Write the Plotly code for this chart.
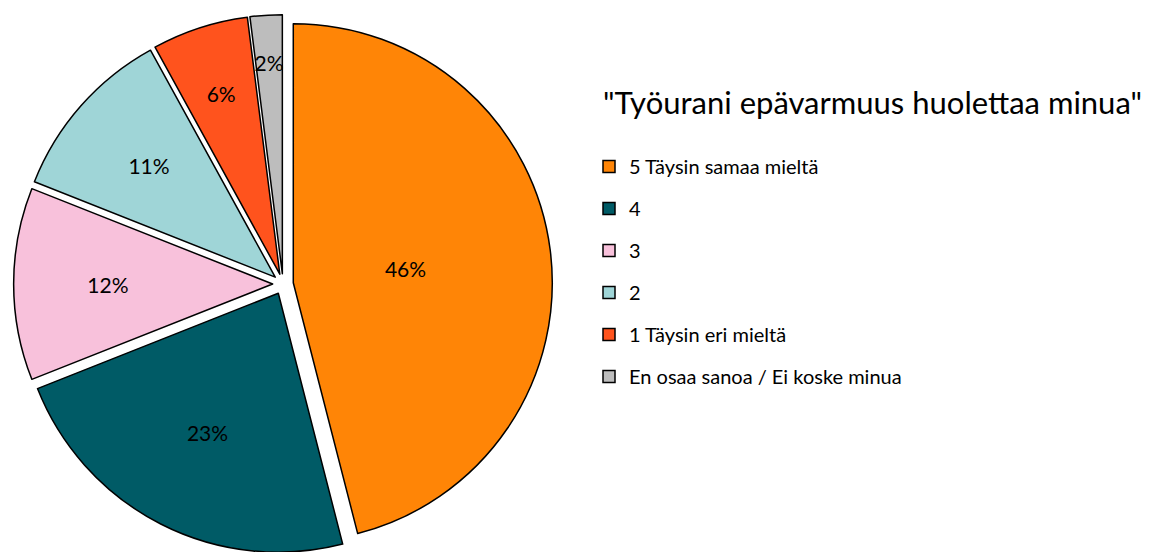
import plotly.graph_objects as go

categories = ["5 Täysin samaa mieltä", "4", "3", "2", "1 Täysin eri mieltä", "En osaa sanoa / Ei koske minua"]
values = [46, 23, 12, 11, 6, 2]
colors = ["#FF8506", "#005B66", "#F8C1DB", "#9FD5D7", "#FF531D", "#BDBDBD"]
title_text = "\"Työurani epävarmuus huolettaa minua\""

FONT = "Lato"
W, H = 1150, 552
OFF = 8  # page body margin offset compensation

# main pie geometry (pixels)
CX, CY = 283 - OFF, 284 - OFF
R = 259
PULL = 0.04
half = R * (1 + PULL)

# which slices get their label on the main pie vs on the inner label layer
main_label = [False, True, False, False, False, False]

fig = go.Figure()
fig.add_trace(go.Pie(
    labels=categories,
    values=values,
    sort=False,
    direction="clockwise",
    rotation=0,
    pull=[PULL] * len(values),
    marker=dict(colors=colors, line=dict(color="black", width=1.5)),
    texttemplate=["%{percent}" if m else "" for m in main_label],
    textposition="inside",
    insidetextorientation="horizontal",
    textfont=dict(family=FONT, size=21, color="black"),
    domain=dict(x=[(CX - half) / W, (CX + half) / W],
                y=[1 - (CY + half) / H, 1 - (CY - half) / H]),
    showlegend=False,
    hoverinfo="label+percent",
))

# label layer: same slices on a smaller transparent pie so labels sit nearer the middle
R2 = 0.87 * R
PULL2 = PULL * R / R2
half2 = R2 * (1 + PULL2)
fig.add_trace(go.Pie(
    labels=categories,
    values=values,
    sort=False,
    direction="clockwise",
    rotation=0,
    pull=[PULL2] * len(values),
    marker=dict(colors=["rgba(0,0,0,0)"] * len(values), line=dict(width=0)),
    texttemplate=["" if m else "%{percent}" for m in main_label],
    textposition="inside",
    insidetextorientation="horizontal",
    textfont=dict(family=FONT, size=21, color="black"),
    domain=dict(x=[(CX - half2) / W, (CX + half2) / W],
                y=[1 - (CY + half2) / H, 1 - (CY - half2) / H]),
    showlegend=False,
    hoverinfo="skip",
))

# legend entries via empty scatter traces (one group each for spacing)
for cat, col in zip(categories, colors):
    fig.add_trace(go.Scatter(
        x=[None], y=[None], mode="markers", name=cat,
        marker=dict(symbol="square", size=12, color=col, line=dict(color="black", width=1.5)),
        legendgroup=cat, showlegend=True,
    ))

fig.update_layout(
    width=W, height=H,
    margin=dict(l=0, r=0, t=0, b=0),
    paper_bgcolor="white", plot_bgcolor="white",
    uniformtext=dict(minsize=21, mode="show"),
    xaxis=dict(visible=False), yaxis=dict(visible=False),
    title=dict(text=title_text, x=595 / W, xanchor="left", xref="container",
               y=1 - 95 / H, yanchor="middle", yref="container",
               font=dict(family=FONT, size=31, color="black")),
    legend=dict(x=581 / W, xanchor="left", y=1 - 139 / H, yanchor="top",
                font=dict(family=FONT, size=20, color="black"),
                tracegroupgap=13, itemwidth=30, bgcolor="rgba(0,0,0,0)"),
)

fig.write_html("out.html")
